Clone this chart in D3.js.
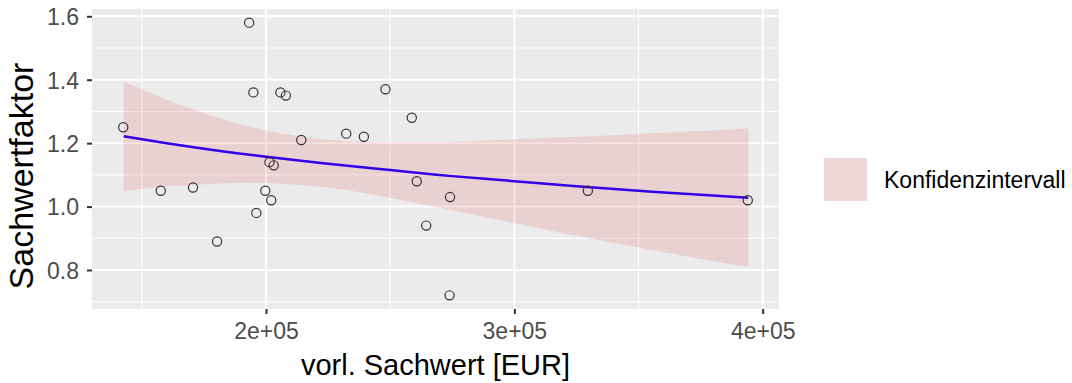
<!DOCTYPE html>
<html>
<head>
<meta charset="utf-8">
<script src="https://cdn.jsdelivr.net/npm/d3@7"></script>
<style>
  html, body { margin: 0; padding: 0; background: #fff; }
  svg { display: block; font-family: "Liberation Sans", Arial, sans-serif; }
</style>
</head>
<body>
<svg id="chart" width="1072" height="383"></svg>
<script>
// Preliminary asset value (EUR) per property and its valuation factor
const sachwert = [142500, 157600, 170600, 180300, 193200, 194900, 196100, 199700,
                  201400, 202100, 203100, 205800, 208000, 214200, 232300, 239400,
                  248100, 258700, 260700, 264500, 274100, 273900, 329600, 394000];
const faktor   = [1.25, 1.05, 1.06, 0.89, 1.58, 1.36, 0.98, 1.05,
                  1.14, 1.02, 1.13, 1.36, 1.35, 1.21, 1.23, 1.22,
                  1.37, 1.28, 1.08, 0.94, 1.03, 0.72, 1.05, 1.02];

// Trend curve with its 95% confidence interval
const trendX  = [142700, 160000, 180000, 200000, 225000, 250000,
                 275000, 300000, 325000, 350000, 375000, 394200];
const trendY  = [1.222, 1.200, 1.177, 1.157, 1.135, 1.115,
                 1.096, 1.080, 1.064, 1.050, 1.037, 1.028];
const trendLo = [1.049, 1.063, 1.072, 1.074, 1.059, 1.028,
                 0.988, 0.948, 0.908, 0.871, 0.835, 0.810];
const trendHi = [1.394, 1.337, 1.282, 1.240, 1.211, 1.202,
                 1.204, 1.212, 1.220, 1.229, 1.238, 1.246];

const xTicks = [200000, 300000, 400000];
const xTickLabels = ["2e+05", "3e+05", "4e+05"];
const xMinor = [150000, 250000, 350000];
const yTicks = [0.8, 1.0, 1.2, 1.4, 1.6];
const yTickLabels = ["0.8", "1.0", "1.2", "1.4", "1.6"];
const yMinor = [0.7, 0.9, 1.1, 1.3, 1.5];
const legendLabel = "Konfidenzintervall";

const svg = d3.select("#chart");
const panel = { left: 92, top: 9, right: 779, bottom: 309 };

// scales with 5% padding around the data range
function padded(ext) {
  const d = (ext[1] - ext[0]) * 0.05;
  return [ext[0] - d, ext[1] + d];
}
const x = d3.scaleLinear().domain(padded(d3.extent(sachwert))).range([panel.left, panel.right]);
const y = d3.scaleLinear().domain(padded(d3.extent(faktor))).range([panel.bottom, panel.top]);

const trend = trendX.map((v, i) => ({ x: v, y: trendY[i], lo: trendLo[i], hi: trendHi[i] }));

// panel background
svg.append("rect")
  .attr("x", panel.left).attr("y", panel.top)
  .attr("width", panel.right - panel.left).attr("height", panel.bottom - panel.top)
  .attr("fill", "#EBEBEB");

const grid = svg.append("g");
grid.selectAll(".ymin").data(yMinor).join("line")
  .attr("x1", panel.left).attr("x2", panel.right)
  .attr("y1", d => y(d)).attr("y2", d => y(d))
  .attr("stroke", "#fff").attr("stroke-width", 1);
grid.selectAll(".xmin").data(xMinor).join("line")
  .attr("y1", panel.top).attr("y2", panel.bottom)
  .attr("x1", d => x(d)).attr("x2", d => x(d))
  .attr("stroke", "#fff").attr("stroke-width", 1);
grid.selectAll(".ymaj").data(yTicks).join("line")
  .attr("x1", panel.left).attr("x2", panel.right)
  .attr("y1", d => y(d)).attr("y2", d => y(d))
  .attr("stroke", "#fff").attr("stroke-width", 2);
grid.selectAll(".xmaj").data(xTicks).join("line")
  .attr("y1", panel.top).attr("y2", panel.bottom)
  .attr("x1", d => x(d)).attr("x2", d => x(d))
  .attr("stroke", "#fff").attr("stroke-width", 2);

// confidence band
const bandColor = "rgba(220,60,60,0.15)";
svg.append("path")
  .datum(trend)
  .attr("d", d3.area().curve(d3.curveNatural).x(d => x(d.x)).y0(d => y(d.lo)).y1(d => y(d.hi)))
  .attr("fill", bandColor);

// trend line
svg.append("path")
  .datum(trend)
  .attr("d", d3.line().curve(d3.curveNatural).x(d => x(d.x)).y(d => y(d.y)))
  .attr("fill", "none").attr("stroke", "#3300E6").attr("stroke-width", 2.5);

// observations
svg.append("g").selectAll("circle").data(sachwert).join("circle")
  .attr("cx", d => x(d)).attr("cy", (d, i) => y(faktor[i]))
  .attr("r", 4.6).attr("fill", "none").attr("stroke", "#333").attr("stroke-width", 1.2);

// axes
const xAxis = svg.append("g").attr("transform", `translate(0,${panel.bottom})`)
  .call(d3.axisBottom(x).tickValues(xTicks).tickFormat((d, i) => xTickLabels[i]).tickSize(5).tickPadding(8));
const yAxis = svg.append("g").attr("transform", `translate(${panel.left},0)`)
  .call(d3.axisLeft(y).tickValues(yTicks).tickFormat((d, i) => yTickLabels[i]).tickSize(5).tickPadding(8));
[xAxis, yAxis].forEach(a => {
  a.select(".domain").remove();
  a.selectAll(".tick line").attr("stroke", "#333").attr("stroke-width", 2);
  a.selectAll(".tick text").attr("fill", "#4D4D4D").style("font-size", "23px")
    .style("font-family", '"Liberation Sans", Arial, sans-serif');
});
xAxis.selectAll(".tick text").attr("dy", "0.75em");
yAxis.selectAll(".tick text").attr("dy", "0.36em");

// axis titles
svg.append("text")
  .attr("x", (panel.left + panel.right) / 2).attr("y", 375)
  .attr("text-anchor", "middle").attr("fill", "#000")
  .style("font-size", "29px").text("vorl. Sachwert [EUR]");
svg.append("text")
  .attr("transform", "translate(33,176) rotate(-90)")
  .attr("text-anchor", "middle").attr("fill", "#000")
  .style("font-size", "34px").text("Sachwertfaktor");

// legend
const lg = svg.append("g").attr("transform", "translate(824,158)");
lg.append("rect").attr("width", 43).attr("height", 43).attr("fill", "#F2F2F2");
lg.append("rect").attr("width", 43).attr("height", 43).attr("fill", bandColor);
lg.append("text").attr("x", 60).attr("y", 22).attr("dy", "0.35em")
  .attr("fill", "#000").style("font-size", "23px").text(legendLabel);
</script>
</body>
</html>
